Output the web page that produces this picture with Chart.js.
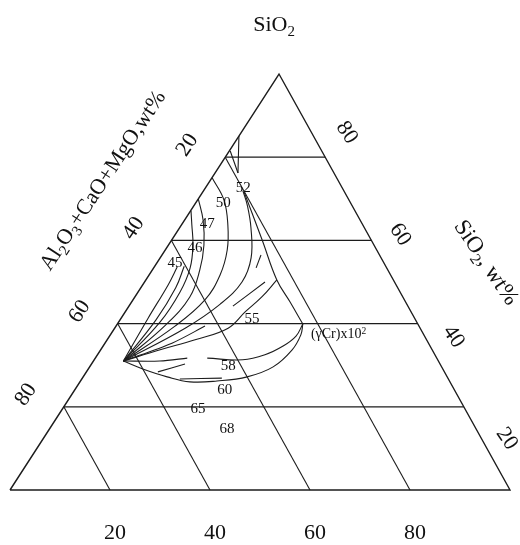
<!DOCTYPE html>
<html>
<head>
<meta charset="utf-8">
<script src="https://cdn.jsdelivr.net/npm/chart.js@4.4.1/dist/chart.umd.min.js"></script>
<style>
  html, body { margin: 0; padding: 0; background: #fff; }
  canvas { display: block; }
</style>
</head>
<body>
<canvas id="chart" width="520" height="545"></canvas>
<script>
// Every composition point is [A, S]:
//   A = Al2O3+CaO+MgO (wt%), S = SiO2 (wt%); the remainder is the base component.
const gridTicks   = [20, 40, 60, 80];
const bottomTicks = [20, 40, 60, 80];
const leftTicks   = [20, 40, 60, 80];
const rightTicks  = [80, 60, 40, 20];

// Point where the iso-activity lines converge
const F = [63, 31];

// Iso-lines of (gamma Cr) x 10^2
const iso45a = [F, [53.3, 41.3], [45.6, 49.3], [41.8, 53.6]];
const iso45b = [F, [51.9, 40.9], [44.4, 48.6], [40.3, 53.8]];
const iso46  = [F, [51.3, 40.4], [44.0, 47.6], [39.3, 53.4], [36.2, 58.9], [34.2, 63.7], [32.8, 67.1]];
const iso47  = [F, [50.5, 39.7], [42.6, 46.4], [37.6, 52.9], [34.0, 58.9], [31.4, 64.9], [30.0, 70.0]];
const iso50  = [F, [48.8, 39.4], [39.9, 45.7], [34.1, 51.7], [29.9, 57.7], [27.0, 63.7], [25.0, 69.7], [24.9, 75.0]];
const iso52  = [F, [47.0, 38.9], [37.3, 44.7], [30.5, 50.0], [26.0, 55.8], [22.7, 63.0], [20.9, 68.5], [20.2, 71.9]];
const iso52top  = [[19.2, 76.2], [14.9, 85.1]];
const iso52wing = [[18.3, 81.5], [19.2, 76.2]];
const rim    = [[20.1, 71.6], [21.8, 60.1], [23.3, 50.5], [23.1, 45.2], [23.0, 39.9]];
const iso53a = [F, [51.3, 35.3], [42.8, 39.4]];
const iso53b = [[35.0, 44.2], [25.9, 50.0]];
const iso53c = [[26.1, 53.4], [23.7, 56.5]];
const iso55  = [F, [54.4, 33.7], [46.3, 36.1], [38.4, 38.9], [33.2, 42.8], [28.2, 46.4], [23.3, 50.5]];
const iso58a = [F, [55.7, 31.0], [49.9, 31.7]];
const iso58b = [[45.9, 31.7], [39.0, 31.3], [34.0, 32.5], [29.4, 34.6], [25.7, 37.0], [23.0, 39.9]];
const iso60  = [F, [60.0, 29.1], [56.0, 27.2], [52.0, 26.0], [46.5, 26.2], [40.0, 27.2], [33.7, 29.6], [28.0, 33.7], [24.6, 37.3], [23.0, 39.9]];
const iso60b = [[53.7, 26.7], [45.2, 26.9]];
const isoLow = [[57.3, 28.4], [51.0, 30.3]];

// Values written on the iso-lines and where they sit
const isoValues    = ['45', '46', '47', '50', '52', '55', '58', '60', '65', '68'];
const isoLabelPos  = [[41.7, 54.8], [36.0, 58.4], [30.9, 64.2], [25.4, 69.2], [19.7, 72.8],
                      [32.5, 41.3], [42.5, 30.0], [45.8, 24.3], [53.3, 19.7], [49.7, 14.9]];
const unitLabelPos = [22.4, 37.7];

// ---- ternary -> plane (the SiO2 apex sits a little right of the base centre)
const SKEW = 0.538;
function tern(p) {
  const a = p[0], s = p[1];
  const c = 100 - a - s;
  return { x: c + SKEW * s, y: s };
}

const INK = '#1c1c1c';
function line(points, width, tension) {
  return {
    data: points.map(tern),
    showLine: true,
    pointRadius: 0,
    borderColor: INK,
    borderWidth: width,
    tension: tension,
    fill: false
  };
}

const datasets = [];
// outline
datasets.push(line([[100, 0], [0, 0], [0, 100], [100, 0]], 1.4, 0));
// constant SiO2 lines
gridTicks.forEach(v => datasets.push(line([[100 - v, v], [0, v]], 1.2, 0)));
// constant Al2O3+CaO+MgO lines
gridTicks.forEach(v => datasets.push(line([[v, 100 - v], [v, 0]], 1.1, 0)));
// iso-lines
[iso45a, iso45b, iso46, iso47, iso50, iso52, iso55, iso58b, iso60, rim].forEach(c => datasets.push(line(c, 1.1, 0.4)));
[iso52top, iso52wing, iso53a, iso53b, iso53c, iso58a, iso60b, isoLow].forEach(c => datasets.push(line(c, 1.1, 0.3)));

const SERIF = '"Liberation Serif", "Times New Roman", serif';
function drawRich(ctx, runs, x, y, angleDeg, size, align) {
  ctx.save();
  ctx.translate(x, y);
  ctx.rotate(angleDeg * Math.PI / 180);
  const parts = runs.map(([t, m]) => {
    const fs = m === 'n' ? size : size * 0.68;
    ctx.font = fs + 'px ' + SERIF;
    return { t, m, fs, w: ctx.measureText(t).width };
  });
  const total = parts.reduce((s, r) => s + r.w, 0);
  let cx = align === 'left' ? 0 : -total / 2;
  ctx.textAlign = 'left';
  ctx.textBaseline = 'alphabetic';
  ctx.fillStyle = '#111';
  const base = size * 0.33;
  for (const r of parts) {
    ctx.font = r.fs + 'px ' + SERIF;
    const dy = r.m === 'sub' ? size * 0.22 : (r.m === 'sup' ? -size * 0.3 : 0);
    ctx.fillText(r.t, cx, base + dy);
    cx += r.w;
  }
  ctx.restore();
}

const textPlugin = {
  id: 'ternaryText',
  afterDatasetsDraw(chart) {
    const ctx = chart.ctx;
    const xs = chart.scales.x, ys = chart.scales.y;
    const px = (X, Y) => [xs.getPixelForValue(X), ys.getPixelForValue(Y)];

    // titles
    drawRich(ctx, [['SiO', 'n'], ['2', 'sub']], 274, 24, 0, 22, 'center');
    drawRich(ctx, [['Al', 'n'], ['2', 'sub'], ['O', 'n'], ['3', 'sub'], ['+CaO+MgO,wt%', 'n']], 102, 180, -56.5, 22, 'center');
    drawRich(ctx, [['SiO', 'n'], ['2', 'sub'], [', wt%', 'n']], 487, 262, 56, 23, 'center');

    // bottom scale
    bottomTicks.forEach(v => {
      const [x, y] = px(v + 1, -10.1);
      drawRich(ctx, [[String(v), 'n']], x, y, 0, 22, 'center');
    });
    // left scale: labels beside the left-edge ends of the constant-A lines
    leftTicks.forEach(v => {
      const e = tern([v, 100 - v]);
      const [x, y] = px(e.x - 7.8, e.y + 3.1);
      drawRich(ctx, [[String(v), 'n']], x, y, -56, 22, 'center');
    });
    // right scale: SiO2 values
    rightTicks.forEach(v => {
      const [x, y] = px(99.6 - 0.5333 * (v - 20), 12.5 + 1.2267 * (v - 20));
      drawRich(ctx, [[String(v), 'n']], x, y, 56, 22, 'center');
    });

    // iso-line values
    isoValues.forEach((t, i) => {
      const p = tern(isoLabelPos[i]);
      const [x, y] = px(p.x, p.y);
      drawRich(ctx, [[t, 'n']], x, y, 0, 15, 'center');
    });
    const u = tern(unitLabelPos);
    const [ux, uy] = px(u.x, u.y);
    drawRich(ctx, [['(\u03B3Cr)x10', 'n'], ['2', 'sup']], ux, uy, 0, 14, 'left');
  }
};

new Chart(document.getElementById('chart'), {
  type: 'scatter',
  data: { datasets },
  options: {
    responsive: false,
    maintainAspectRatio: false,
    animation: false,
    events: [],
    layout: { padding: 0 },
    plugins: { legend: { display: false }, tooltip: { enabled: false } },
    scales: {
      x: { type: 'linear', min: -2, max: 102, display: false },
      y: { type: 'linear', min: -13.22, max: 117.79, display: false }
    }
  },
  plugins: [textPlugin]
});
</script>
</body>
</html>
